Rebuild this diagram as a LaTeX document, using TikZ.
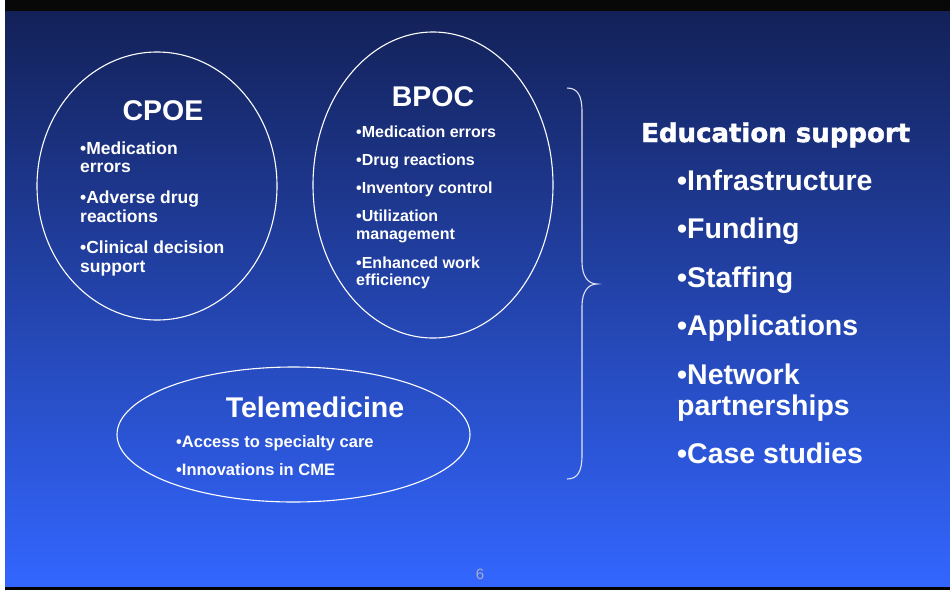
\documentclass[tikz,border=0pt]{standalone}
\usepackage{fontspec}
\setmainfont{Liberation Sans}
\newfontfamily\headfont{DejaVu Sans}[BoldFeatures={FakeBold=1.8}]
\usetikzlibrary{shapes.geometric}

\definecolor{slidetop}{RGB}{19,33,88}
\definecolor{slidebottom}{RGB}{51,102,255}
\definecolor{pagegray}{RGB}{170,172,195}
\definecolor{bracecol}{RGB}{225,228,240}

\tikzset{
  bubble/.style={ellipse, draw=white, line width=1.1pt, inner sep=0pt},
  title/.style={anchor=base, text=white, font=\bfseries\fontsize{28.5}{30}\selectfont},
  itemL/.style={anchor=base west, text=white, inner sep=0pt, font=\bfseries\fontsize{17.5}{19}\selectfont},
  itemM/.style={anchor=base west, text=white, inner sep=0pt, font=\bfseries\fontsize{16}{18}\selectfont},
  itemT/.style={anchor=base west, text=white, inner sep=0pt, font=\bfseries\fontsize{16.5}{18}\selectfont},
  itemR/.style={anchor=base west, text=white, inner sep=0pt, font=\bfseries\fontsize{28.5}{30}\selectfont},
}

\begin{document}
\begin{tikzpicture}[x=1pt, y=-1pt]
  % frame and slide background
  \useasboundingbox (0,0) rectangle (950,590);
  \fill[white] (0,0) rectangle (950,590);
  \fill[black!97] (5,0) rectangle (950,11);
  \fill[black] (5,586) rectangle (950,590);
  \shade[top color=slidetop, bottom color=slidebottom] (5,11) rectangle (950,586);

  % the three bubbles
  \node[bubble, minimum width=240pt, minimum height=268pt] (cpoe) at (157,186) {};
  \node[bubble, minimum width=240pt, minimum height=306pt] (bpoc) at (433,185) {};
  \node[bubble, minimum width=353pt, minimum height=135pt] (tele) at (293.5,434.5) {};

  % CPOE
  \node[title] (cpoeT) at (163,120) {CPOE};
  \node[itemL] (c1) at (80,154) {•Medication};
  \node[itemL] (c2) at (80,172) {errors};
  \node[itemL] (c3) at (80,203) {•Adverse drug};
  \node[itemL] (c4) at (80,222) {reactions};
  \node[itemL] (c5) at (80,253) {•Clinical decision};
  \node[itemL] (c6) at (80,272) {support};

  % BPOC
  \node[title] (bpocT) at (433,106) {BPOC};
  \node[itemM] (b1) at (356,137) {•Medication errors};
  \node[itemM] (b2) at (356,165) {•Drug reactions};
  \node[itemM] (b3) at (356,193) {•Inventory control};
  \node[itemM] (b4) at (356,221) {•Utilization};
  \node[itemM] (b5) at (356,239) {management};
  \node[itemM] (b6) at (356,268) {•Enhanced work};
  \node[itemM] (b7) at (356,285) {efficiency};

  % Telemedicine
  \node[title] (teleT) at (315,417) {Telemedicine};
  \node[itemT] (t1) at (176,447) {•Access to specialty care};
  \node[itemT] (t2) at (176,475) {•Innovations in CME};

  % brace
  \draw[bracecol, line width=1.1pt]
    (567,88) .. controls (578,88) and (582,96) .. (582,112)
    -- (582,262) .. controls (582,276) and (588,284) .. (597,284)
    .. controls (588,284) and (582,292) .. (582,306)
    -- (582,455) .. controls (582,471) and (578,479) .. (567,479);

  % education support list
  \node[anchor=base west, text=white, inner sep=0pt, font=\headfont\bfseries\fontsize{26}{28}\selectfont] (edu) at (641,142) {Education support};
  \node[itemR] (r1) at (677,190) {•Infrastructure};
  \node[itemR] (r2) at (677,238) {•Funding};
  \node[itemR] (r3) at (677,287) {•Staffing};
  \node[itemR] (r4) at (677,335) {•Applications};
  \node[itemR] (r5) at (677,384) {•Network};
  \node[itemR] (r6) at (677,415) {partnerships};
  \node[itemR] (r7) at (677,463) {•Case studies};

  % page number
  \node[anchor=base, text=pagegray, inner sep=0pt, font=\fontsize{15}{16}\selectfont] (pg) at (480,579) {6};
\end{tikzpicture}
\end{document}
